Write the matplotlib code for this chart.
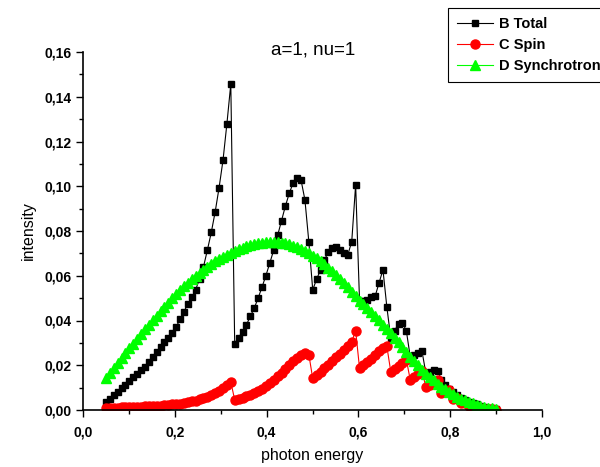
import numpy as np
import matplotlib
matplotlib.use("Agg")
import matplotlib.pyplot as plt
from matplotlib.ticker import MultipleLocator, FuncFormatter

plt.rcParams['font.family'] = ['Liberation Sans', 'DejaVu Sans']

# photon energy grid (101 samples between 0.05 and 0.90)
energy = [
    0.0500, 0.0585, 0.0670, 0.0755, 0.0840, 0.0925, 0.1010, 0.1095, 0.1180, 0.1265,
    0.1350, 0.1435, 0.1520, 0.1605, 0.1690, 0.1775, 0.1860, 0.1945, 0.2030, 0.2115,
    0.2200, 0.2285, 0.2370, 0.2455, 0.2540, 0.2625, 0.2710, 0.2795, 0.2880, 0.2965,
    0.3050, 0.3135, 0.3220, 0.3305, 0.3390, 0.3475, 0.3560, 0.3645, 0.3730, 0.3815,
    0.3900, 0.3985, 0.4070, 0.4155, 0.4240, 0.4325, 0.4410, 0.4495, 0.4580, 0.4665,
    0.4750, 0.4835, 0.4920, 0.5005, 0.5090, 0.5175, 0.5260, 0.5345, 0.5430, 0.5515,
    0.5600, 0.5685, 0.5770, 0.5855, 0.5940, 0.6025, 0.6110, 0.6195, 0.6280, 0.6365,
    0.6450, 0.6535, 0.6620, 0.6705, 0.6790, 0.6875, 0.6960, 0.7045, 0.7130, 0.7215,
    0.7300, 0.7385, 0.7470, 0.7555, 0.7640, 0.7725, 0.7810, 0.7895, 0.7980, 0.8065,
    0.8150, 0.8235, 0.8320, 0.8405, 0.8490, 0.8575, 0.8660, 0.8745, 0.8830, 0.8915,
    0.9000,
]

total = [
    0.0037, 0.0050, 0.0065, 0.0080, 0.0097, 0.0113, 0.0130, 0.0147, 0.0163, 0.0177,
    0.0192, 0.0214, 0.0237, 0.0260, 0.0281, 0.0302, 0.0321, 0.0343, 0.0372, 0.0405,
    0.0440, 0.0475, 0.0503, 0.0538, 0.0586, 0.0640, 0.0715, 0.0794, 0.0886, 0.0994,
    0.1116, 0.1279, 0.1457, 0.0297, 0.0324, 0.0349, 0.0381, 0.0418, 0.0455, 0.0500,
    0.0549, 0.0601, 0.0657, 0.0715, 0.0780, 0.0846, 0.0912, 0.0969, 0.1016, 0.1038,
    0.1028, 0.0939, 0.0752, 0.0537, 0.0585, 0.0626, 0.0671, 0.0705, 0.0724, 0.0730,
    0.0715, 0.0700, 0.0694, 0.0753, 0.1007, 0.0486, 0.0488, 0.0493, 0.0504, 0.0509,
    0.0568, 0.0627, 0.0460, 0.0322, 0.0355, 0.0386, 0.0391, 0.0353, 0.0237, 0.0245,
    0.0254, 0.0263, 0.0165, 0.0172, 0.0181, 0.0176, 0.0135, 0.0111, 0.0093, 0.0079,
    0.0066, 0.0053, 0.0045, 0.0037, 0.0031, 0.0025, 0.0020, 0.0015, 0.0011, 0.0008,
    0.0005,
]

spin = [
    0.0010, 0.0010, 0.0011, 0.0011, 0.0012, 0.0012, 0.0013, 0.0014, 0.0014, 0.0015,
    0.0016, 0.0017, 0.0018, 0.0019, 0.0020, 0.0022, 0.0023, 0.0025, 0.0027, 0.0029,
    0.0032, 0.0035, 0.0038, 0.0042, 0.0047, 0.0053, 0.0060, 0.0068, 0.0077, 0.0087,
    0.0098, 0.0111, 0.0126, 0.0045, 0.0050, 0.0055, 0.0061, 0.0068, 0.0076, 0.0085,
    0.0095, 0.0106, 0.0121, 0.0135, 0.0150, 0.0166, 0.0183, 0.0200, 0.0217, 0.0233,
    0.0246, 0.0255, 0.0248, 0.0141, 0.0155, 0.0170, 0.0186, 0.0201, 0.0217, 0.0235,
    0.0252, 0.0268, 0.0285, 0.0305, 0.0355, 0.0186, 0.0200, 0.0213, 0.0228, 0.0244,
    0.0264, 0.0279, 0.0284, 0.0172, 0.0185, 0.0198, 0.0211, 0.0225, 0.0134, 0.0148,
    0.0162, 0.0176, 0.0102, 0.0112, 0.0123, 0.0134, 0.0074, 0.0082, 0.0090, 0.0050,
    0.0054, 0.0030, 0.0033, 0.0016, 0.0018, 0.0010, 0.0011, 0.0006, 0.0005, 0.0003,
    0.0002,
]

synchrotron = [
    0.0145, 0.0167, 0.0189, 0.0211, 0.0233, 0.0254, 0.0276, 0.0297, 0.0318, 0.0339,
    0.0360, 0.0380, 0.0401, 0.0421, 0.0441, 0.0461, 0.0480, 0.0499, 0.0517, 0.0535,
    0.0552, 0.0568, 0.0584, 0.0599, 0.0613, 0.0627, 0.0640, 0.0652, 0.0664, 0.0675,
    0.0685, 0.0694, 0.0703, 0.0711, 0.0718, 0.0725, 0.0731, 0.0736, 0.0741, 0.0745,
    0.0748, 0.0750, 0.0751, 0.0751, 0.0750, 0.0748, 0.0745, 0.0741, 0.0735, 0.0728,
    0.0720, 0.0711, 0.0701, 0.0690, 0.0678, 0.0665, 0.0651, 0.0636, 0.0620, 0.0603,
    0.0585, 0.0567, 0.0548, 0.0529, 0.0509, 0.0489, 0.0475, 0.0457, 0.0439, 0.0420,
    0.0401, 0.0382, 0.0363, 0.0343, 0.0323, 0.0302, 0.0281, 0.0260, 0.0239, 0.0219,
    0.0199, 0.0180, 0.0163, 0.0147, 0.0132, 0.0118, 0.0105, 0.0093, 0.0081, 0.0070,
    0.0060, 0.0051, 0.0043, 0.0036, 0.0030, 0.0024, 0.0019, 0.0014, 0.0010, 0.0007,
    0.0005,
]

fig = plt.figure(figsize=(6.0, 4.67), dpi=100)
ax = fig.add_axes([83 / 600, 1 - 410 / 467, (542 - 83) / 600, (410 - 52) / 467])

ax.plot(energy, total, '-s', color='black', lw=0.8, ms=5, label='B Total')
ax.plot(energy, spin, '-o', color='red', lw=0.8, ms=6.5, label='C Spin')
ax.plot(energy, synchrotron, '-^', color='#00ff00', lw=0.8, ms=6.5, label='D Synchrotron')

ax.set_xlim(0, 1.0)
ax.set_ylim(0, 0.16)
ax.xaxis.set_major_locator(MultipleLocator(0.2))
ax.xaxis.set_minor_locator(MultipleLocator(0.1))
ax.yaxis.set_major_locator(MultipleLocator(0.02))
ax.yaxis.set_minor_locator(MultipleLocator(0.01))
ax.xaxis.set_major_formatter(FuncFormatter(lambda v, p: f"{v:.1f}".replace('.', ',')))
ax.yaxis.set_major_formatter(FuncFormatter(lambda v, p: f"{v:.2f}".replace('.', ',')))
ax.tick_params(which='major', direction='out', length=5, width=1, labelsize=10)
ax.tick_params(axis='x', which='major', pad=6)
ax.tick_params(which='minor', direction='out', length=3, width=1)
for lbl in ax.get_xticklabels() + ax.get_yticklabels():
    lbl.set_fontweight('bold')

ax.spines['top'].set_visible(False)
ax.spines['right'].set_visible(False)
ax.spines['left'].set_linewidth(1.2)
ax.spines['bottom'].set_linewidth(1.2)

ax.set_xlabel('photon energy', fontsize=11.5, labelpad=6)
ax.set_ylabel('intensity', fontsize=11.5, labelpad=6)
fig.text(313 / 600, 1 - 50 / 467, 'a=1, nu=1', fontsize=13.5, ha='center', va='center')

leg = fig.legend(loc='upper left', bbox_to_anchor=(448 / 600, 1 - 8 / 467),
                 frameon=True, fancybox=False, edgecolor='black', framealpha=1,
                 prop={'size': 10.5, 'weight': 'bold'}, handlelength=2.5,
                 handletextpad=0.4, borderpad=0.6, labelspacing=0.5,
                 borderaxespad=0)
leg.get_frame().set_linewidth(0.8)

fig.savefig('out.png', dpi=100)
